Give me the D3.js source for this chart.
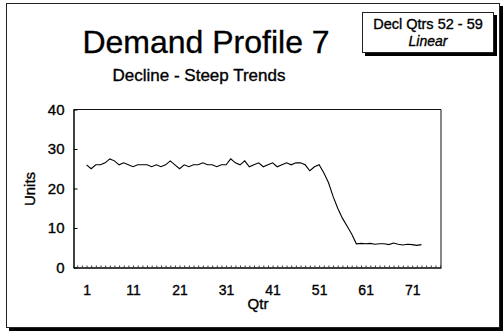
<!DOCTYPE html>
<html>
<head>
<meta charset="utf-8">
<script src="https://cdn.jsdelivr.net/npm/d3@7/dist/d3.min.js"></script>
<style>
  html, body { margin: 0; padding: 0; background: #fff; }
  svg text { font-family: "Liberation Sans", Arial, sans-serif; fill: #000; }
</style>
</head>
<body>
<svg id="chart" width="504" height="333"></svg>
<script>
// Quarterly demand, quarters 1..74
const quarters = d3.range(1, 75);
const units = [
  26, 25, 26, 26, 26.5, 27.5, 27, 26, 26.5, 26,
  25.5, 26, 26, 26, 25.5, 26, 25.5, 26, 27, 26,
  25, 26, 25.5, 26, 26, 26.5, 26, 26, 25.5, 26,
  26, 27.5, 26.5, 26, 27, 25.5, 26, 26.5, 25.5, 26,
  26.5, 25.5, 26, 26.5, 26, 26.5, 26.5, 26, 24.5, 25.5,
  26, 24, 21.5, 18, 15, 12.5, 10.5, 8.5, 6,
  6.1, 6, 6.1, 5.9, 6, 6, 5.8, 6.2, 5.9, 5.7, 5.9, 5.8, 5.6, 5.8
];
const xTickLabels = [1, 11, 21, 31, 41, 51, 61, 71];
const yTickLabels = [0, 10, 20, 30, 40];
const titleText = "Demand Profile 7";
const subtitleText = "Decline - Steep Trends";
const noteLines = ["Decl Qtrs 52 - 59", "Linear"];

const svg = d3.select("#chart");
const heavy = sel => sel.attr("stroke", "#000").attr("stroke-width", 0.35);

// outer chart frame with drop shadow
svg.append("rect").attr("x", 9).attr("y", 6).attr("width", 494).attr("height", 325).attr("fill", "#000");
svg.append("rect").attr("x", 6.5).attr("y", 3.5).attr("width", 493).attr("height", 324)
  .attr("fill", "#fff").attr("stroke", "#222").attr("stroke-width", 1);

// titles
svg.append("text").attr("x", 206).attr("y", 53).attr("text-anchor", "middle")
  .attr("font-size", 32).call(heavy).text(titleText);
svg.append("text").attr("x", 199).attr("y", 81).attr("text-anchor", "middle")
  .attr("font-size", 17).call(heavy).text(subtitleText);

// note box
svg.append("rect").attr("x", 365).attr("y", 15).attr("width", 132).attr("height", 41).attr("fill", "#000");
svg.append("rect").attr("x", 362.5).attr("y", 12.5).attr("width", 131).attr("height", 40)
  .attr("fill", "#fff").attr("stroke", "#222").attr("stroke-width", 1);
svg.append("text").attr("x", 428).attr("y", 29).attr("text-anchor", "middle")
  .attr("font-size", 14.5).call(heavy).text(noteLines[0]);
svg.append("text").attr("x", 428).attr("y", 46).attr("text-anchor", "middle")
  .attr("font-size", 14).attr("font-style", "italic").call(heavy).text(noteLines[1]);

// scales
const x = d3.scaleLinear().domain([-1.8, 77.2]).range([73.5, 441]);
const y = d3.scaleLinear().domain([0, 40]).range([267.5, 109.5]);

// plot frame (top and right)
svg.append("path")
  .attr("d", `M${x.range()[0]},${y(40)}H${x.range()[1]}V${y(0)}`)
  .attr("fill", "none").attr("stroke", "#111").attr("stroke-width", 1);

// y axis
const yAxis = svg.append("g").attr("transform", `translate(${x.range()[0]},0)`)
  .call(d3.axisLeft(y).tickValues(yTickLabels).tickSizeInner(-4).tickSizeOuter(0).tickPadding(9));
yAxis.select(".domain").attr("stroke", "#000").attr("stroke-width", 1.5);
yAxis.selectAll("text").attr("font-size", 15).attr("font-family", "Liberation Sans, Arial, sans-serif")
  .attr("fill", "#000").call(heavy);

// x axis: one small tick per quarter
const xMinor = svg.append("g").attr("transform", `translate(0,${y(0)})`)
  .call(d3.axisBottom(x).tickValues(d3.range(-1, 78)).tickSizeInner(-2).tickSizeOuter(0).tickFormat(""));
xMinor.select(".domain").attr("stroke", "#000").attr("stroke-width", 1.5);
xMinor.selectAll(".tick line").attr("stroke", "#333");

const xAxis = svg.append("g").attr("transform", `translate(0,${y(0)})`)
  .call(d3.axisBottom(x).tickValues(xTickLabels).tickSize(0).tickPadding(18).tickFormat(d3.format("d")));
xAxis.select(".domain").remove();
xAxis.selectAll("text").attr("font-size", 14).attr("font-family", "Liberation Sans, Arial, sans-serif")
  .attr("fill", "#000").call(heavy);

// axis titles
svg.append("text").attr("x", 258).attr("y", 309).attr("text-anchor", "middle")
  .attr("font-size", 15).call(heavy).text("Qtr");
svg.append("text").attr("transform", "translate(35,189) rotate(-90)").attr("text-anchor", "middle")
  .attr("font-size", 15).call(heavy).text("Units");

// demand line
const line = d3.line().x((d, i) => x(quarters[i])).y(d => y(d));
svg.append("path").datum(units).attr("d", line)
  .attr("fill", "none").attr("stroke", "#000").attr("stroke-width", 1.1);
</script>
</body>
</html>
